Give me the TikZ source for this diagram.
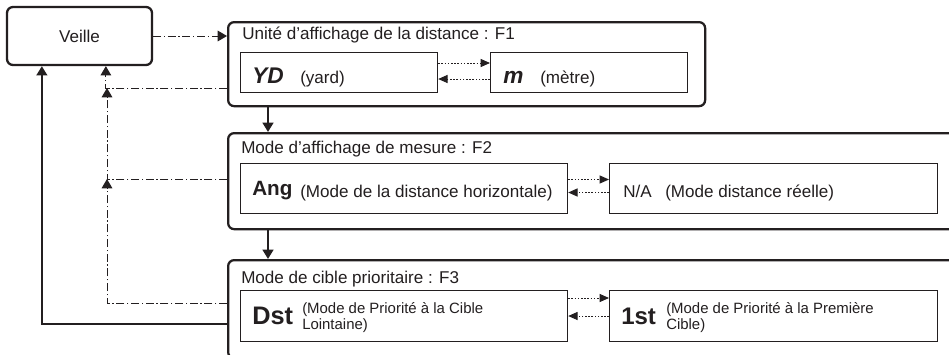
\documentclass[tikz,border=0pt]{standalone}
\usepackage{fontspec}
\setmainfont{Liberation Sans}
\usetikzlibrary{arrows.meta,calc}
\definecolor{ink}{HTML}{231F20}
\newcommand{\twolines}[2]{\begin{tabular}[t]{@{}l@{}}#1\\#2\end{tabular}}
\begin{document}
\begin{tikzpicture}[x=0.75pt,y=-0.75pt,
  outerbox/.style={draw=ink, line width=1.7pt, rounded corners=4.5pt, inner sep=0pt, anchor=north west},
  innerbox/.style={draw=ink, line width=0.9pt, inner sep=0pt, anchor=north west},
  headtext/.style={anchor=base west, inner sep=0pt, text=ink, font=\fontsize{12.8}{15}\selectfont},
  lbl/.style={anchor=base west, inner sep=0pt, text=ink, font=\fontsize{12.8}{15}\selectfont},
  smalltext/.style={anchor=base west, inner sep=0pt, text=ink, font=\fontsize{11.2}{12}\selectfont},
  bigital/.style={anchor=base west, inner sep=0pt, text=ink, font=\fontsize{17}{20}\selectfont\bfseries\itshape},
  bigbold/.style={anchor=base west, inner sep=0pt, text=ink, font=\fontsize{19}{22}\selectfont\bfseries},
  flow/.style={draw=ink, line width=1.7pt, -{Triangle[length=7pt,width=8pt]}},
  dashdot/.style={draw=ink, line width=0.75pt, dash pattern=on 6pt off 2pt on 1pt off 2pt, -{Triangle[length=7pt,width=8pt]}},
  dotarrow/.style={draw=ink, line width=0.75pt, dash pattern=on 1.2pt off 1.2pt, -{Triangle[length=7pt,width=6pt]}}
]
\useasboundingbox (0,0) rectangle (949,354);
\clip (0,0) rectangle (949,354);
\fill[white] (0,0) rectangle (949,354);

% Veille
\node[outerbox, anchor=center, minimum width=108.75pt, minimum height=43.5pt, font=\fontsize{12.8}{15}\selectfont, text=ink] (veille) at (79.5,36) {Veille};

% F1
\node[outerbox, minimum width=357.75pt, minimum height=63pt] (F1) at (227,21) {};
\node[headtext] (t1) at (242,39) {Unité d'affichage de la distance : F1};
\node[innerbox, minimum width=147.75pt, minimum height=30pt] (yd) at (240,52) {};
\node[innerbox, minimum width=147.75pt, minimum height=30pt] (mb) at (490,52) {};
\node[bigital] (ydl) at (252,83) {YD};
\node[lbl] (ydt) at (300,83) {(yard)};
\node[bigital] (ml) at (503,83) {m};
\node[lbl] (mt) at (540,83) {(mètre)};

% F2
\node[outerbox, minimum width=552pt, minimum height=72pt] (F2) at (227,132) {};
\node[headtext] (t2) at (241,153) {Mode d'affichage de mesure : F2};
\node[innerbox, minimum width=245.25pt, minimum height=38pt] (ang) at (240,162.5) {};
\node[innerbox, minimum width=246pt, minimum height=38pt] (na) at (609,162.5) {};
\node[bigbold, font=\fontsize{15.5}{18}\selectfont\bfseries] (angl) at (252,195) {Ang};
\node[lbl] (angt) at (300,197) {(Mode de la distance horizontale)};
\node[lbl] (nal) at (623,197) {N/A};
\node[lbl] (nat) at (665,197) {(Mode distance réelle)};

% F3
\node[outerbox, minimum width=552pt, minimum height=73.5pt] (F3) at (227,259) {};
\node[headtext] (t3) at (241,283) {Mode de cible prioritaire : F3};
\node[innerbox, minimum width=245.25pt, minimum height=38pt] (dst) at (240,290) {};
\node[innerbox, minimum width=246pt, minimum height=38pt] (fst) at (609,290) {};
\node[bigbold] (dstl) at (252,324) {Dst};
\node[smalltext] (dstt) at (302,313) {\twolines{(Mode de Priorité à la Cible}{Lointaine)}};
\node[bigbold, font=\fontsize{18}{22}\selectfont\bfseries] (fstl) at (621,324) {1st};
\node[smalltext] (fstt) at (666,313) {\twolines{(Mode de Priorité à la Première}{Cible)}};

% dotted toggles
\draw[dotarrow] ($(yd.north east)+(0,11)$) -- ($(mb.north west)+(0,11)$);
\draw[dotarrow] ($(mb.north west)+(0,27)$) -- ($(yd.north east)+(0,27)$);
\draw[dotarrow] ($(ang.north east)+(0,17)$) -- ($(na.north west)+(0,17)$);
\draw[dotarrow] ($(na.north west)+(0,30)$) -- ($(ang.north east)+(0,30)$);
\draw[dotarrow] ($(dst.north east)+(0,8)$) -- ($(fst.north west)+(0,8)$);
\draw[dotarrow] ($(fst.north west)+(0,26)$) -- ($(dst.north east)+(0,26)$);

% main flow
\draw[dashdot] (veille.east) -- (veille.east -| F1.west);
\draw[flow] ($(F1.south west)+(41,0)$) -- ($(F2.north west)+(41,0)$);
\draw[flow] ($(F2.south west)+(41,0)$) -- ($(F3.north west)+(41,0)$);
\draw[flow] ($(F3.north west)+(0,65)$) -| ($(veille.south west)+(36,0)$);

% returns (dash-dot)
\coordinate (j1) at (107,88);
\coordinate (j2) at (107,179);
\draw[dashdot] ($(F1.north west)+(0,67)$) -| ($(veille.south west)+(100,0)$);
\draw[dashdot] ($(F2.north west)+(0,47)$) -| (j1);
\draw[dashdot] ($(F3.north west)+(0,44)$) -| (j2);
\end{tikzpicture}
\end{document}
